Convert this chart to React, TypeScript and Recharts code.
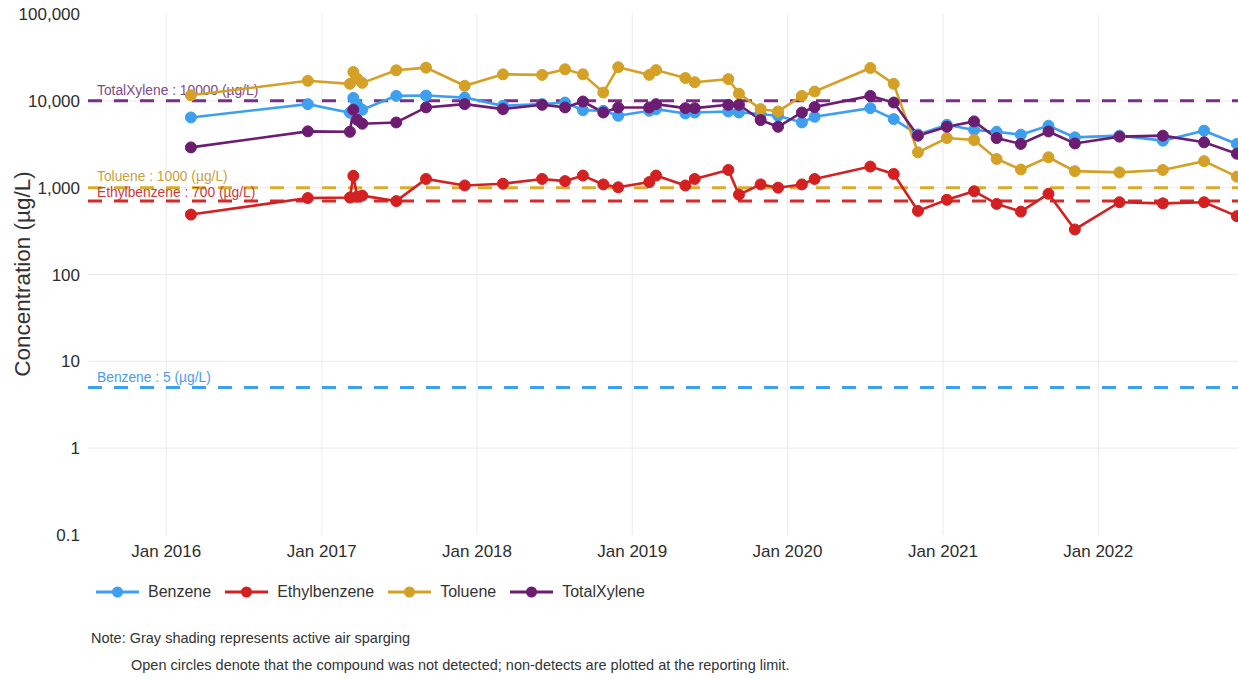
import React from 'react';
import { LineChart, Line, XAxis, YAxis, CartesianGrid, ReferenceLine } from 'recharts';

const sampleDates = [
  '2016-02-28', '2016-11-29', '2017-03-08', '2017-03-16', '2017-03-25', '2017-04-06',
  '2017-06-25', '2017-09-03', '2017-12-03', '2018-03-03', '2018-06-03', '2018-07-27',
  '2018-09-07', '2018-10-25', '2018-11-29', '2019-02-10', '2019-02-26', '2019-05-06',
  '2019-05-28', '2019-08-15', '2019-09-09', '2019-10-30', '2019-12-10', '2020-02-04',
  '2020-03-05', '2020-07-14', '2020-09-07', '2020-11-03', '2021-01-10', '2021-03-15',
  '2021-05-07', '2021-07-03', '2021-09-06', '2021-11-07', '2022-02-20', '2022-06-02',
  '2022-09-07', '2022-11-23',
];

const benzene = [
  6440, 9160, 7300, 10800, 9000, 7900,
  11400, 11500, 10900, 8760, 9160, 9560,
  7800, 7680, 6730, 7680, 8030, 7150,
  7340, 7540, 7340, 7040, 6730, 5640,
  6550, 8240, 6160, 4100, 5300, 4620,
  4400, 4070, 5170, 3800, 3970, 3480,
  4530, 3190,
];

const ethylbenzene = [
  490, 760, 770, 1370, 790, 810,
  700, 1260, 1060, 1110, 1260, 1190,
  1380, 1090, 1010, 1160, 1380, 1060,
  1260, 1600, 830, 1090, 1000, 1090,
  1260, 1750, 1440, 540, 725, 910,
  650, 530, 850, 330, 680, 660,
  680, 470,
];

const toluene = [
  11600, 17000, 15700, 21500, 18000, 16100,
  22500, 24100, 14900, 20200, 19900, 23100,
  20200, 12450, 24400, 19900, 22600, 18300,
  16400, 17800, 12100, 8030, 7550, 11400,
  12800, 23900, 15700, 2550, 3730, 3540,
  2140, 1620, 2240, 1550, 1500, 1600,
  2020, 1340,
];

const totalXylene = [
  2910, 4450, 4400, 7900, 6050, 5450,
  5640, 8400, 9160, 8030, 9000, 8400,
  9820, 7340, 8380, 8380, 9160, 8240,
  8240, 9000, 9000, 6000, 5030, 7340,
  8470, 11400, 9560, 3970, 5030, 5800,
  3730, 3190, 4440, 3230, 3870, 3970,
  3330, 2460,
];

const xTickDates = ['2016-01-01', '2017-01-01', '2018-01-01', '2019-01-01', '2020-01-01', '2021-01-01', '2022-01-01'];
const xDomainDates = ['2015-07-01', '2022-12-31'];
const yTicks = [0.1, 1, 10, 100, 1000, 10000, 100000];
const yGridValues = [1, 10, 100, 1000, 10000];

const seriesNames = ['Benzene', 'Ethylbenzene', 'Toluene', 'TotalXylene'];
const seriesValues = [benzene, ethylbenzene, toluene, totalXylene];
const seriesColors = ['#3d9ff0', '#d42020', '#d4a126', '#6c1d72'];

const limitNames = ['TotalXylene', 'Toluene', 'Ethylbenzene', 'Benzene'];
const limitValues = [10000, 1000, 700, 5];
const limitColors = ['#7a2d8a', '#d9ac2c', '#d42a2a', '#3d9ff0'];
const limitLabelColors = ['#7d4a8c', '#c9a13e', '#cc3a3a', '#4a9cec'];
const limitLabelLift = [10, 11.5, 8.5, 10];

const noteLines = [
  'Note: Gray shading represents active air sparging',
  'Open circles denote that the compound was not detected; non-detects are plotted at the reporting limit.',
];

const toTs = (s: string) => new Date(s + 'T00:00:00Z').getTime();
const MONTHS = ['Jan', 'Feb', 'Mar', 'Apr', 'May', 'Jun', 'Jul', 'Aug', 'Sep', 'Oct', 'Nov', 'Dec'];

const data = sampleDates.map((d, i) => {
  const row: Record<string, number> = { t: toTs(d) };
  seriesNames.forEach((n, k) => {
    row[n] = seriesValues[k][i];
  });
  return row;
});

const FONT = '"Liberation Sans", Arial, sans-serif';

const fmtX = (t: number) => {
  const d = new Date(t);
  return `${MONTHS[d.getUTCMonth()]} ${d.getUTCFullYear()}`;
};
const fmtY = (v: number) => (v >= 1 ? Math.round(v).toLocaleString('en-US') : String(v));

export default function App() {
  return (
    <div
      style={{
        position: 'absolute',
        left: 0,
        top: 0,
        width: 1238,
        height: 679,
        overflow: 'hidden',
        background: '#ffffff',
        fontFamily: FONT,
      }}
    >
      <LineChart
        width={1280}
        height={600}
        data={data}
        margin={{ top: 14, right: 27, left: 0, bottom: 0 }}
        style={{ fontFamily: FONT }}
      >
        <CartesianGrid
          stroke="#ebebeb"
          strokeWidth={1}
          horizontalValues={yGridValues}
          verticalValues={xTickDates.map(toTs)}
        />
        <XAxis
          dataKey="t"
          type="number"
          domain={xDomainDates.map(toTs)}
          ticks={xTickDates.map(toTs)}
          tickFormatter={fmtX}
          allowDataOverflow
          axisLine={false}
          tickLine={false}
          tickSize={0}
          tickMargin={10}
          height={65}
          tick={{ fontSize: 17, fill: '#2e2e2e', fontFamily: FONT }}
        />
        <YAxis
          scale="log"
          domain={[0.1, 100000]}
          ticks={yTicks}
          tickFormatter={fmtY}
          allowDataOverflow
          axisLine={false}
          tickLine={false}
          tickSize={0}
          tickMargin={8}
          width={88}
          tick={{ fontSize: 17, fill: '#2e2e2e', fontFamily: FONT }}
          label={() => (
            <text
              x={22}
              y={274}
              transform="rotate(-90 22 274)"
              textAnchor="middle"
              dominantBaseline="central"
              fontSize={22.5}
              fill="#333333"
              fontFamily={FONT}
            >
              Concentration (µg/L)
            </text>
          )}
        />
        {limitNames.map((n, i) => (
          <ReferenceLine
            key={n}
            y={limitValues[i]}
            stroke={limitColors[i]}
            strokeWidth={3}
            strokeDasharray="14 12"
            label={(props: any) => {
              const vb = props.viewBox || {};
              return (
                <text
                  x={(vb.x ?? 88) + 9}
                  y={(vb.y ?? 0) - limitLabelLift[i]}
                  dominantBaseline="central"
                  fontSize={13.8}
                  fill={limitLabelColors[i]}
                  fontFamily={FONT}
                >
                  {`${n} : ${limitValues[i]} (µg/L)`}
                </text>
              );
            }}
          />
        ))}
        {seriesNames.map((n, k) => (
          <Line
            key={n}
            type="linear"
            dataKey={n}
            stroke={seriesColors[k]}
            strokeWidth={2.6}
            dot={{ r: 5.5, fill: seriesColors[k], stroke: seriesColors[k], strokeWidth: 1 }}
            activeDot={false}
            isAnimationActive={false}
          />
        ))}
      </LineChart>

      <div
        style={{
          position: 'absolute',
          left: 96,
          top: 582,
          height: 20,
          display: 'flex',
          alignItems: 'center',
          fontSize: 16,
          color: '#333333',
        }}
      >
        {seriesNames.map((n, k) => (
          <div key={n} style={{ display: 'flex', alignItems: 'center', marginRight: 14 }}>
            <svg width={43} height={14} style={{ marginRight: 9 }}>
              <line x1={0} y1={7} x2={43} y2={7} stroke={seriesColors[k]} strokeWidth={3} />
              <circle cx={21.5} cy={7} r={5.5} fill={seriesColors[k]} />
            </svg>
            <span>{n}</span>
          </div>
        ))}
      </div>

      <div
        style={{
          position: 'absolute',
          left: 91,
          top: 630,
          fontSize: 14.5,
          lineHeight: '16px',
          color: '#333333',
          whiteSpace: 'nowrap',
        }}
      >
        {noteLines[0]}
      </div>
      <div
        style={{
          position: 'absolute',
          left: 131,
          top: 657,
          fontSize: 14.5,
          lineHeight: '16px',
          color: '#333333',
          whiteSpace: 'nowrap',
        }}
      >
        {noteLines[1]}
      </div>
    </div>
  );
}
